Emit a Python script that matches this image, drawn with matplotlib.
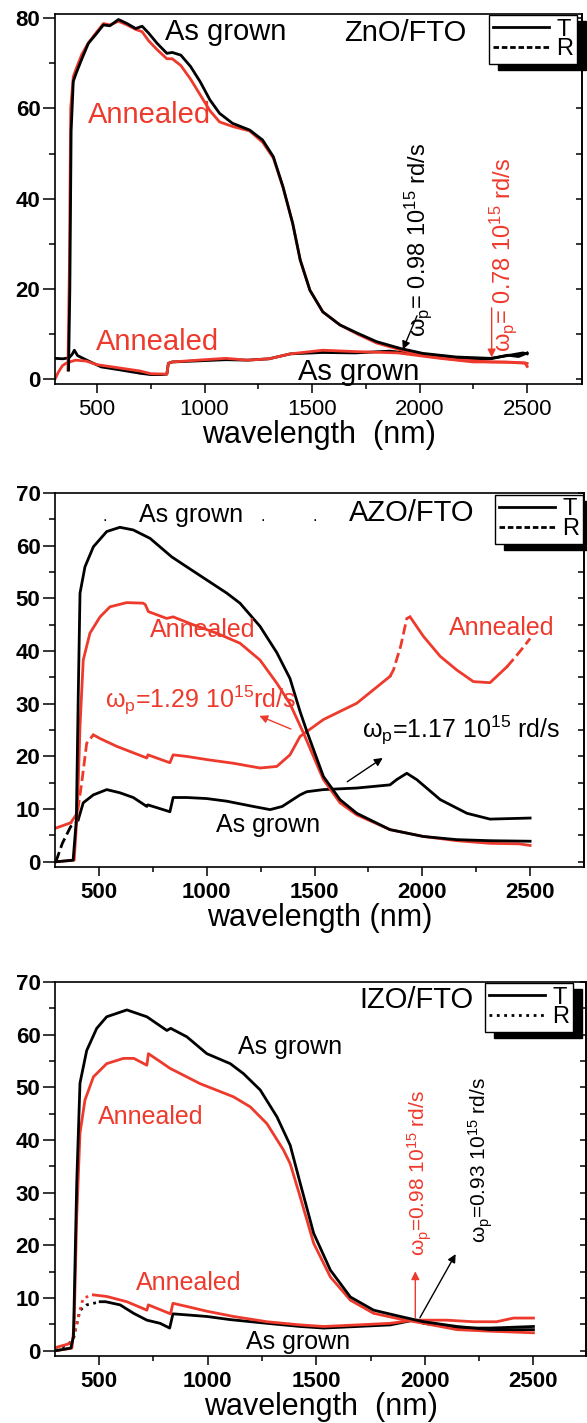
import numpy as np
import matplotlib.pyplot as plt
from matplotlib.lines import Line2D

plt.rcParams['font.family'] = ['Liberation Sans', 'DejaVu Sans']
plt.rcParams['mathtext.fontset'] = 'custom'
plt.rcParams['mathtext.rm'] = 'Liberation Sans'
plt.rcParams['mathtext.it'] = 'Liberation Sans:italic'
plt.rcParams['mathtext.bf'] = 'Liberation Sans:bold'

RED = '#ee3a2c'

# ---- ZnO/FTO ----
zno_t_grown_wl = [368, 374, 380, 390, 405, 430, 460, 500, 530, 560, 600, 640, 680, 710, 740, 780,
                  825, 850, 890, 935, 980, 1025, 1070, 1130, 1210, 1270, 1320, 1365, 1410, 1445,
                  1490, 1550, 1630, 1710, 1800, 1910, 2015, 2170, 2330, 2420, 2480, 2500]
zno_t_grown = [2, 20, 55, 66, 68, 71, 74.4, 76.7, 78.5, 78.3, 79.7, 78.8, 77.7, 78.2, 76.7, 74.4,
               72.2, 72.4, 71.8, 69.3, 65.9, 61.9, 58.9, 56.7, 55.2, 53, 49.3, 42.6, 34.5, 26.4,
               19.7, 14.9, 12, 10.2, 8.3, 6.8, 5.7, 4.9, 4.6, 5.3, 5.8, 5.6]
zno_t_ann_wl = [365, 372, 378, 390, 405, 430, 460, 500, 530, 560, 600, 640, 680, 710, 740, 780,
                825, 850, 890, 935, 980, 1025, 1070, 1130, 1210, 1270, 1320, 1365, 1410, 1445,
                1490, 1550, 1630, 1710, 1800, 1910, 2015, 2170, 2330, 2420, 2500]
zno_t_ann = [2, 25, 60, 67, 69, 72, 74.5, 77, 78.8, 78.5, 79.3, 78.5, 77.5, 77, 75, 73,
             71, 71, 69.5, 66.5, 63, 59.5, 57, 56, 55, 52.5, 49, 42.5, 34.5, 26.4,
             19.7, 14.9, 12, 10, 8, 6.5, 5.2, 4.3, 3.8, 3.7, 3.5]
zno_r_grown_wl = [305, 340, 370, 385, 395, 410, 440, 470, 520, 600, 700, 750, 800, 825, 832, 850,
                  900, 1000, 1100, 1200, 1300, 1400, 1550, 1700, 1860, 1940, 2095, 2250, 2330,
                  2410, 2460, 2500]
zno_r_grown = [4.6, 4.5, 4.7, 5.5, 6.4, 5.2, 4.5, 3.8, 2.7, 2.1, 1.3, 1.0, 1.0, 1.1, 3.5, 3.8,
               3.9, 4.1, 4.3, 4.2, 4.5, 5.6, 5.9, 5.8, 6.2, 5.8, 5.0, 4.4, 4.5, 5.3, 5.0, 5.8]
zno_r_ann_wl = [305, 320, 340, 360, 400, 450, 500, 600, 700, 750, 825, 832, 850, 1000, 1100, 1200,
                1300, 1400, 1550, 1700, 1900, 2095, 2250, 2400, 2490, 2500]
zno_r_ann = [0, 1.5, 3.0, 3.6, 4.2, 4.0, 3.2, 2.5, 1.8, 1.2, 1.1, 3.5, 3.8, 4.3, 4.6, 4.2,
             4.5, 5.6, 6.4, 6.1, 5.8, 4.6, 3.8, 3.8, 3.6, 2.8]

# ---- AZO/FTO ----
azo_t_grown_wl = [300, 380, 395, 404, 412, 435, 474, 536, 597, 659, 737, 837, 907, 1000, 1093, 1154,
                  1247, 1325, 1386, 1433, 1464, 1541, 1618, 1696, 1850, 2005, 2160, 2314, 2500]
azo_t_grown = [0, 0.3, 8, 32, 51, 56, 59.8, 62.7, 63.5, 63, 61.4, 57.9, 56, 53.5, 51, 49.1,
               44.7, 39.7, 34.8, 28.5, 24.8, 16.2, 11.8, 9.2, 6.1, 4.8, 4.2, 4.0, 3.9]
azo_t_ann_wl = [300, 385, 400, 412, 427, 458, 505, 551, 628, 705, 715, 729, 814, 844, 937, 1046,
                1154, 1247, 1325, 1386, 1448, 1541, 1618, 1696, 1850, 2005, 2160, 2314, 2450, 2500]
azo_t_ann = [0, 0.3, 10, 25.7, 38.3, 43.4, 46.5, 48.4, 49.2, 49.1, 48.8, 47.5, 46.2, 46.5, 45, 43.4,
             41.5, 38.3, 33.9, 30, 24.5, 15.6, 11.2, 8.9, 6.1, 4.8, 4.0, 3.5, 3.4, 3.1]
azo_r_grown_wl = [300, 330, 369, 390, 404, 427, 474, 536, 597, 659, 722, 727, 829, 844, 907, 1000,
                  1093, 1216, 1294, 1350, 1433, 1464, 1541, 1696, 1850, 1881, 1928, 1974, 2083,
                  2207, 2314, 2500]
azo_r_grown = [0, 3.5, 6.7, 7.3, 8, 11.2, 12.7, 13.7, 13.1, 12.2, 10.5, 10.8, 9.5, 12.2, 12.2, 12,
               11.5, 10.5, 9.9, 10.5, 12.7, 13.3, 13.7, 14, 14.6, 15.6, 16.8, 15.6, 11.8,
               9.2, 8.1, 8.3]
azo_r_ann_wl = [300, 369, 400, 420, 443, 474, 505, 583, 722, 727, 829, 844, 907, 1000, 1124, 1247,
                1325, 1386, 1433, 1541, 1696, 1850, 1866, 1900, 1928, 1943, 2005, 2083, 2160,
                2237, 2314, 2392, 2430, 2470, 2500]
azo_r_ann = [6.4, 7.4, 9.3, 15, 22.5, 24.1, 23.4, 21.9, 19.7, 20.3, 18.8, 20.3, 20, 19.4, 18.7, 17.8,
             18.1, 20.3, 23.8, 27, 30.1, 35.2, 36.4, 41, 46.2, 46.5, 42.8, 39, 36.4,
             34.2, 34, 37, 38.8, 40.8, 42.4]

# ---- IZO/FTO ----
izo_t_grown_wl = [300, 370, 382, 397, 412, 443, 489, 535, 628, 720, 812, 830, 904, 996, 1104, 1165,
                  1242, 1319, 1380, 1426, 1488, 1565, 1657, 1764, 1887, 1995, 2148, 2302, 2500]
izo_t_grown = [0, 0.5, 2.7, 31.8, 50.8, 57, 61.2, 63.4, 64.7, 63.4, 60.8, 61.2, 59.6, 56.4, 54.5, 52.6,
               49.5, 44.4, 39, 31.8, 22.3, 15.3, 10.2, 7.7, 6.5, 5.5, 4.6, 4.0, 4.0]
izo_t_ann_wl = [300, 375, 385, 397, 412, 435, 474, 535, 612, 660, 720, 727, 781, 827, 965, 1119,
                1196, 1273, 1349, 1380, 1426, 1488, 1565, 1657, 1764, 1887, 1995, 2148, 2302, 2500]
izo_t_ann = [0, 0.5, 5, 25.4, 41.3, 47.6, 52, 54.5, 55.5, 55.5, 54.2, 56.4, 54.9, 53.6, 50.7, 48.2,
             46.3, 43.1, 38.1, 35.5, 29.2, 20.4, 14, 9.6, 7.1, 6, 5.2, 4.0, 3.7, 3.4]
izo_r_grown_wl = [300, 360, 382, 412, 443, 505, 530, 597, 659, 720, 781, 825, 840, 904, 996, 1104,
                  1273, 1426, 1534, 1690, 1841, 1948, 1995, 2148, 2302, 2500]
izo_r_grown = [0, 1.3, 2.3, 7.7, 8.7, 9.3, 9.3, 8.7, 7.1, 5.8, 5.2, 4.3, 7.0, 6.8, 6.5, 5.9,
               5.2, 4.6, 4.3, 4.6, 4.9, 5.8, 5.2, 4.3, 4.3, 4.6]
izo_r_ann_wl = [300, 360, 380, 412, 427, 474, 535, 628, 720, 727, 829, 840, 904, 996, 1119, 1273,
                1426, 1534, 1690, 1841, 1948, 2100, 2225, 2330, 2408, 2500]
izo_r_ann = [0.6, 1.3, 2.0, 7.7, 10, 10.6, 10.3, 9.3, 7.7, 8.7, 7.0, 9.0, 8.4, 7.5, 6.5, 5.5,
             4.9, 4.6, 4.9, 5.2, 5.8, 5.8, 5.5, 5.5, 6.2, 6.2]


def curve(ax, wl, val, color, broken=(), style='--'):
    wl = np.asarray(wl, float)
    val = np.asarray(val, float)
    inside = np.zeros(len(wl), bool)
    for lo, hi in broken:
        inside |= (wl >= lo) & (wl <= hi)
    near = inside.copy()
    near[1:] |= inside[:-1]
    near[:-1] |= inside[1:]
    ax.plot(wl, np.where(~inside, val, np.nan), color=color, lw=2)
    if inside.any():
        ax.plot(wl, np.where(near, val, np.nan), color=color, lw=2, ls=style)


def setup(ax, xlim, ylim, ymajor, xbold):
    ax.set_xlim(*xlim)
    ax.set_ylim(*ylim)
    ax.set_xticks([500, 1000, 1500, 2000, 2500])
    ax.set_xticks([750, 1250, 1750, 2250], minor=True)
    yt = np.arange(0, ylim[1] + 0.1, ymajor)
    ytm = np.arange(ymajor / 2, ylim[1], ymajor)
    ax.set_yticks(yt)
    ax.set_yticks(ytm, minor=True)
    for s in ax.spines.values():
        s.set_linewidth(1.2)
    ax.tick_params(axis='y', which='major', length=8.5, width=1.1, pad=2, labelsize=16)
    ax.tick_params(axis='y', which='minor', length=4.3, width=1.1)
    ax.tick_params(axis='x', which='major', length=6.5, width=1.1, pad=4, labelsize=16)
    ax.tick_params(axis='x', which='minor', length=3.8, width=1.1)
    for lbl in ax.get_yticklabels():
        lbl.set_fontweight('bold')
    if xbold:
        for lbl in ax.get_xticklabels():
            lbl.set_fontweight('bold')
    # inward ticks on the right side
    sec = ax.secondary_yaxis('right')
    sec.set_yticks(yt)
    sec.set_yticks(ytm, minor=True)
    sec.tick_params(which='both', direction='in', length=4, width=1.1, labelright=False)
    sec.spines['right'].set_linewidth(1.2)


def legend(ax, anchor, rstyle):
    handles = [Line2D([], [], color='k', lw=2, ls='-'),
               Line2D([], [], color='k', lw=2, ls=rstyle)]
    leg = ax.legend(handles, ['T', 'R'], loc='upper right', bbox_to_anchor=anchor,
                    borderaxespad=0, fontsize=17, handlelength=2.4, handletextpad=0.3,
                    labelspacing=-0.1, borderpad=0.15, fancybox=False, framealpha=1,
                    edgecolor='k', shadow={'ox': 6.5, 'oy': -4.5, 'color': 'k', 'alpha': 1})
    leg.get_frame().set_linewidth(1)
    leg.set_zorder(10)


fig = plt.figure(figsize=(5.87, 14.23), dpi=100)
ax1 = fig.add_axes([0.0937, 0.7301, 0.8978, 0.2600])
ax2 = fig.add_axes([0.0937, 0.3907, 0.9012, 0.2628])
ax3 = fig.add_axes([0.0937, 0.0471, 0.9046, 0.2628])

# panel 1
curve(ax1, zno_r_grown_wl, zno_r_grown, 'k')
curve(ax1, zno_r_ann_wl, zno_r_ann, RED)
curve(ax1, zno_t_ann_wl, zno_t_ann, RED)
curve(ax1, zno_t_grown_wl, zno_t_grown, 'k')
setup(ax1, (305, 2755), (-1.1, 80.9), 20, False)
ax1.set_xlabel('wavelength  (nm)', fontsize=22, labelpad=0)
legend(ax1, (0.9905, 0.997), (0, (2, 1)))
ax1.text(1935, 76.7, 'ZnO/FTO', fontsize=21, ha='center', va='center')
ax1.text(1100, 77, 'As grown', fontsize=21, ha='center', va='center')
ax1.text(742, 58.5, 'Annealed', fontsize=21, ha='center', va='center', color=RED)
ax1.text(781, 8.2, 'Annealed', fontsize=21, ha='center', va='center', color=RED)
ax1.text(1719, 1.6, 'As grown', fontsize=21, ha='center', va='center')
ax1.text(1993, 30.8, r'ω$_\mathregular{p}$= 0.98 10$^\mathregular{15}$ rd/s', fontsize=17,
         rotation=90, ha='center', va='center')
ax1.text(2388, 27.5, r'ω$_\mathregular{p}$= 0.78 10$^\mathregular{15}$ rd/s', fontsize=17,
         rotation=90, ha='center', va='center', color=RED)
ax1.annotate('', xy=(1917, 6.0), xytext=(1993, 14.6),
             arrowprops=dict(arrowstyle='-|>', color='k', lw=1, mutation_scale=12))
ax1.annotate('', xy=(2335, 4.2), xytext=(2335, 16.4),
             arrowprops=dict(arrowstyle='-|>', color=RED, lw=1, mutation_scale=12))

# panel 2
curve(ax2, azo_r_grown_wl, azo_r_grown, 'k', broken=[(300, 400)])
curve(ax2, azo_r_ann_wl, azo_r_ann, RED, broken=[(400, 443), (1866, 1928), (2430, 2500)])
curve(ax2, azo_t_ann_wl, azo_t_ann, RED)
curve(ax2, azo_t_grown_wl, azo_t_grown, 'k')
setup(ax2, (296, 2750), (-1, 70), 10, True)
ax2.set_xlabel('wavelength (nm)', fontsize=22, labelpad=0)
legend(ax2, (0.998, 0.995), (0, (2, 1)))
ax2.text(1951, 66.2, 'AZO/FTO', fontsize=21, ha='center', va='center')
ax2.text(929, 65.8, 'As grown', fontsize=18, ha='center', va='center')
for dot_x in [528, 1261, 1502]:
    ax2.text(dot_x, 65.5, '.', fontsize=12, ha='center', va='center')
ax2.text(980, 44, 'Annealed', fontsize=18, ha='center', va='center', color=RED)
ax2.text(2367, 44.4, 'Annealed', fontsize=18, ha='center', va='center', color=RED)
ax2.text(1285, 7, 'As grown', fontsize=18, ha='center', va='center')
ax2.text(528, 30.7, r'ω$_\mathregular{p}$=1.29 10$^\mathregular{15}$rd/s', fontsize=18,
         ha='left', va='center', color=RED)
ax2.text(1719, 25, r'ω$_\mathregular{p}$=1.17 10$^\mathregular{15}$ rd/s', fontsize=18,
         ha='left', va='center')
ax2.annotate('', xy=(1232, 27.9), xytext=(1402, 25),
             arrowprops=dict(arrowstyle='-|>', color=RED, lw=1, mutation_scale=12))
ax2.annotate('', xy=(1827, 20), xytext=(1641, 14.9),
             arrowprops=dict(arrowstyle='-|>', color='k', lw=1, mutation_scale=12))

# panel 3
curve(ax3, izo_r_grown_wl, izo_r_grown, 'k', broken=[(300, 443)], style=':')
curve(ax3, izo_r_ann_wl, izo_r_ann, RED, broken=[(380, 427)], style=':')
curve(ax3, izo_t_ann_wl, izo_t_ann, RED)
curve(ax3, izo_t_grown_wl, izo_t_grown, 'k')
setup(ax3, (297, 2742), (-1, 70), 10, True)
ax3.set_xlabel('wavelength  (nm)', fontsize=22, labelpad=0)
legend(ax3, (0.9755, 0.997), ':')
ax3.text(1959, 66.5, 'IZO/FTO', fontsize=21, ha='center', va='center')
ax3.text(1380, 57.7, 'As grown', fontsize=18, ha='center', va='center')
ax3.text(737, 44.4, 'Annealed', fontsize=18, ha='center', va='center', color=RED)
ax3.text(912, 12.8, 'Annealed', fontsize=18, ha='center', va='center', color=RED)
ax3.text(1418, 1.7, 'As grown', fontsize=18, ha='center', va='center')
ax3.text(1975, 33.7, r'ω$_\mathregular{p}$=0.98 10$^\mathregular{15}$ rd/s', fontsize=15,
         rotation=90, ha='center', va='center', color=RED)
ax3.text(2256, 36.2, r'ω$_\mathregular{p}$=0.93 10$^\mathregular{15}$ rd/s', fontsize=15,
         rotation=90, ha='center', va='center')
ax3.annotate('', xy=(1956, 15.6), xytext=(1956, 5.8),
             arrowprops=dict(arrowstyle='-|>', color=RED, lw=1, mutation_scale=12))
ax3.annotate('', xy=(2148, 18.8), xytext=(1971, 5.8),
             arrowprops=dict(arrowstyle='-|>', color='k', lw=1, mutation_scale=12))

fig.savefig('out.png', dpi=100)
